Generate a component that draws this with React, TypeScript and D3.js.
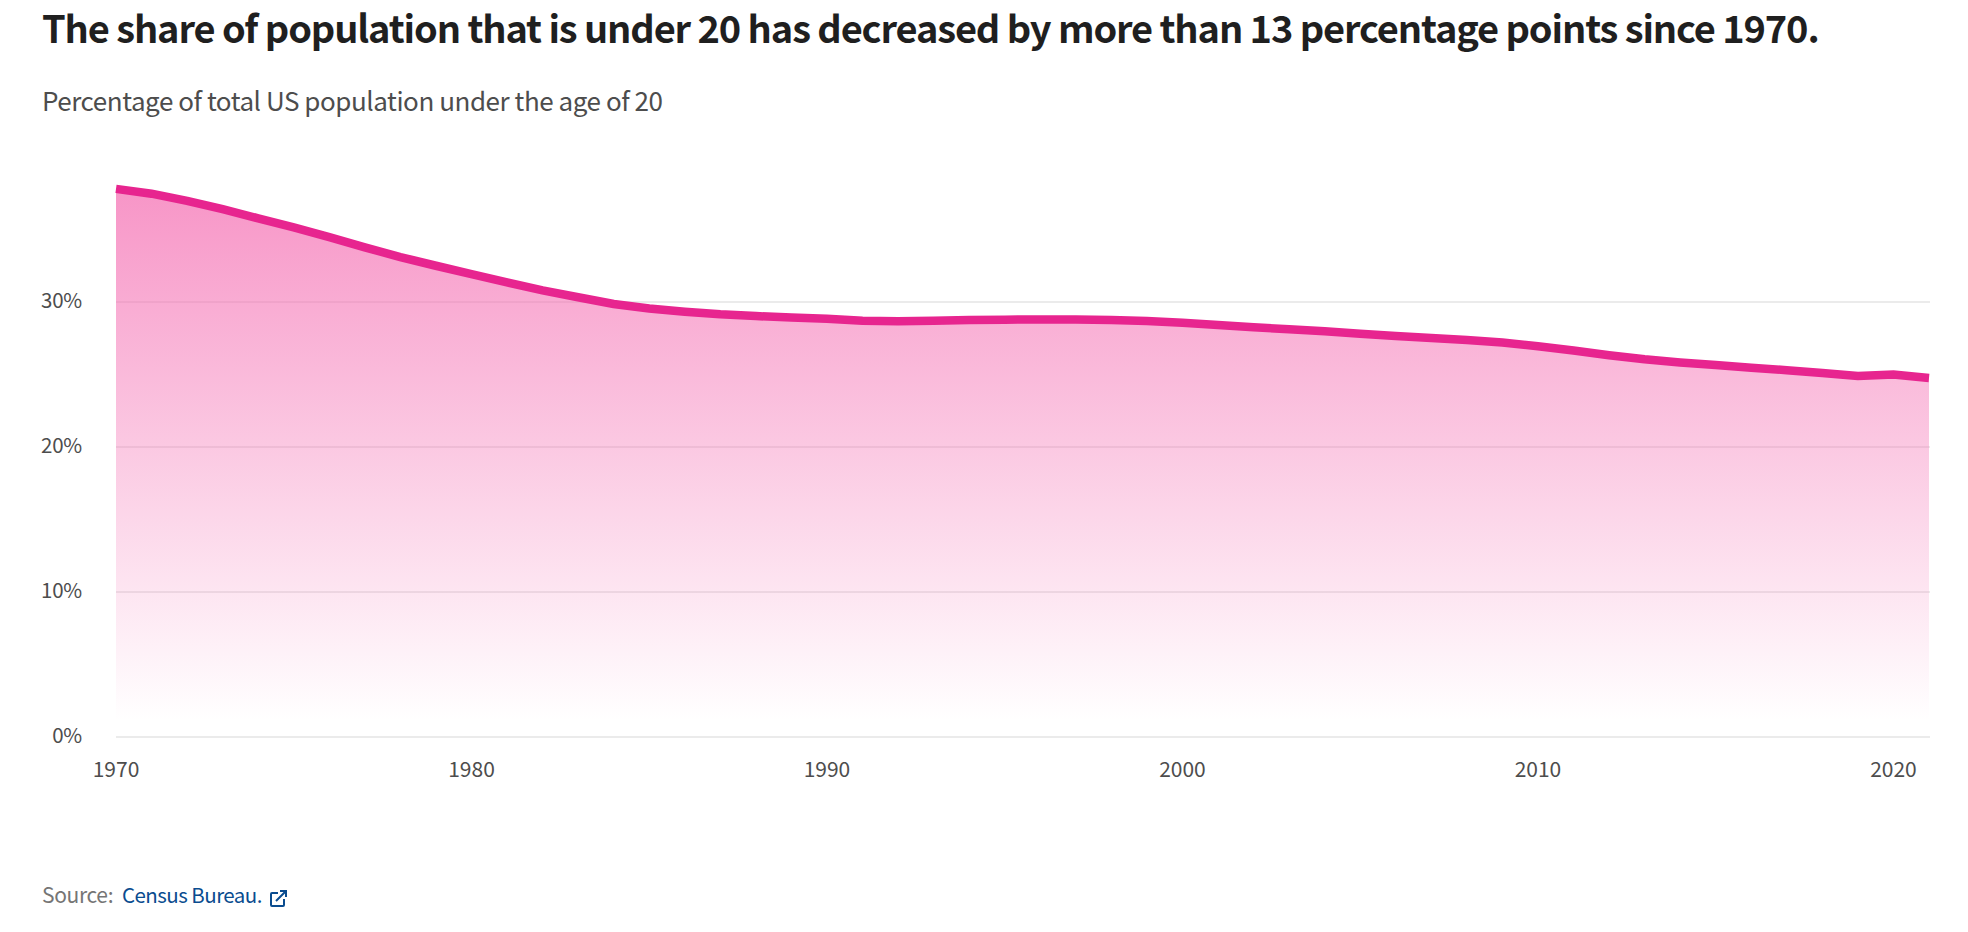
import { useEffect, useRef } from 'react';
import * as d3 from 'd3';

const YEARS = [
  1970, 1971, 1972, 1973, 1974, 1975, 1976, 1977, 1978, 1979,
  1980, 1981, 1982, 1983, 1984, 1985, 1986, 1987, 1988, 1989,
  1990, 1991, 1992, 1993, 1994, 1995, 1996, 1997, 1998, 1999,
  2000, 2001, 2002, 2003, 2004, 2005, 2006, 2007, 2008, 2009,
  2010, 2011, 2012, 2013, 2014, 2015, 2016, 2017, 2018, 2019,
  2020, 2021,
];
const SHARE_UNDER_20 = [
  37.8, 37.47, 36.98, 36.4, 35.77, 35.15, 34.48, 33.77, 33.1, 32.5,
  31.93, 31.35, 30.8, 30.33, 29.86, 29.55, 29.33, 29.15, 29.03, 28.93,
  28.85, 28.71, 28.67, 28.71, 28.76, 28.78, 28.8, 28.79, 28.76, 28.69,
  28.57, 28.41, 28.26, 28.12, 27.98, 27.81, 27.65, 27.52, 27.38, 27.2,
  26.95, 26.65, 26.33, 26.05, 25.83, 25.65, 25.47, 25.3, 25.1, 24.9,
  25.0, 24.76,
];
const Y_TICKS = [0, 10, 20, 30];
const X_TICKS = [1970, 1980, 1990, 2000, 2010, 2020];

const FONT = '"Noto Sans CJK SC", Lato, sans-serif';

export default function App() {
  const svgRef = useRef<SVGSVGElement>(null);

  useEffect(() => {
    if (!svgRef.current) return;
    const svg = d3.select(svgRef.current);
    svg.selectAll('*').remove();

    const left = 116;
    const right = 1929;
    const x = d3.scaleLinear().domain([1970, 2021]).range([left, right]);
    const y = d3.scaleLinear().domain([0, 30]).range([737, 302]);

    const grad = svg.append('defs').append('linearGradient')
      .attr('id', 'fade').attr('x1', 0).attr('x2', 0).attr('y1', 0).attr('y2', 1);
    grad.append('stop').attr('offset', '0%').attr('stop-color', '#f468af').attr('stop-opacity', 0.7);
    grad.append('stop').attr('offset', '97%').attr('stop-color', '#f468af').attr('stop-opacity', 0);

    const points = YEARS.map((year, i) => ({ year, value: SHARE_UNDER_20[i] }));

    svg.append('text').attr('x', 42).attr('y', 43)
      .attr('font-size', 38).attr('font-weight', 700).attr('fill', '#1f1f1f')
      .attr('letter-spacing', -1.13)
      .text('The share of population that is under 20 has decreased by more than 13 percentage points since 1970.');
    svg.append('text').attr('x', 42).attr('y', 111)
      .attr('font-size', 26).attr('fill', '#4d4d4d')
      .attr('letter-spacing', -0.45)
      .text('Percentage of total US population under the age of 20');

    // grid goes under the translucent area so it shows through
    svg.append('g').selectAll('line').data(Y_TICKS).join('line')
      .attr('x1', left).attr('x2', right + 1)
      .attr('y1', d => y(d)).attr('y2', d => y(d))
      .attr('stroke', '#e4e4e4').attr('stroke-width', 1.3);

    const area = d3.area<{ year: number; value: number }>()
      .x(d => x(d.year)).y0(y(0)).y1(d => y(d.value));
    svg.append('path').datum(points)
      .attr('d', area).attr('fill', 'url(#fade)');

    const line = d3.line<{ year: number; value: number }>()
      .x(d => x(d.year)).y(d => y(d.value));
    svg.append('path').datum(points)
      .attr('d', line).attr('fill', 'none')
      .attr('stroke', '#e7258f').attr('stroke-width', 8.5);

    svg.append('g').selectAll('text').data(Y_TICKS).join('text')
      .attr('x', 82).attr('y', d => y(d) + 6).attr('text-anchor', 'end')
      .attr('font-size', 20.5).attr('fill', '#4d4d4d').attr('letter-spacing', -0.2)
      .text(d => `${d}%`);

    svg.append('g').selectAll('text').data(X_TICKS).join('text')
      .attr('x', d => x(d)).attr('y', 777).attr('text-anchor', 'middle')
      .attr('font-size', 21).attr('fill', '#4d4d4d')
      .text(d => d);

    svg.append('text').attr('x', 42).attr('y', 903)
      .attr('font-size', 21).attr('fill', '#757575').attr('letter-spacing', -0.35).text('Source:');
    svg.append('text').attr('x', 122).attr('y', 903)
      .attr('font-size', 20.5).attr('fill', '#0a4c8f').attr('letter-spacing', -0.55).text('Census Bureau.');

    const icon = svg.append('g').attr('transform', 'translate(270,890)')
      .attr('fill', 'none').attr('stroke', '#0a4c8f').attr('stroke-width', 2);
    icon.append('path').attr('d', 'M8 3H2a1 1 0 0 0-1 1v11a1 1 0 0 0 1 1h11a1 1 0 0 0 1-1V9');
    icon.append('path').attr('d', 'M6 11L16 1M10 1h6v6');
  }, []);

  return (
    <svg
      ref={svgRef}
      width={1968}
      height={932}
      style={{ position: 'absolute', left: 0, top: 0, fontFamily: FONT, background: '#fff' }}
    />
  );
}
